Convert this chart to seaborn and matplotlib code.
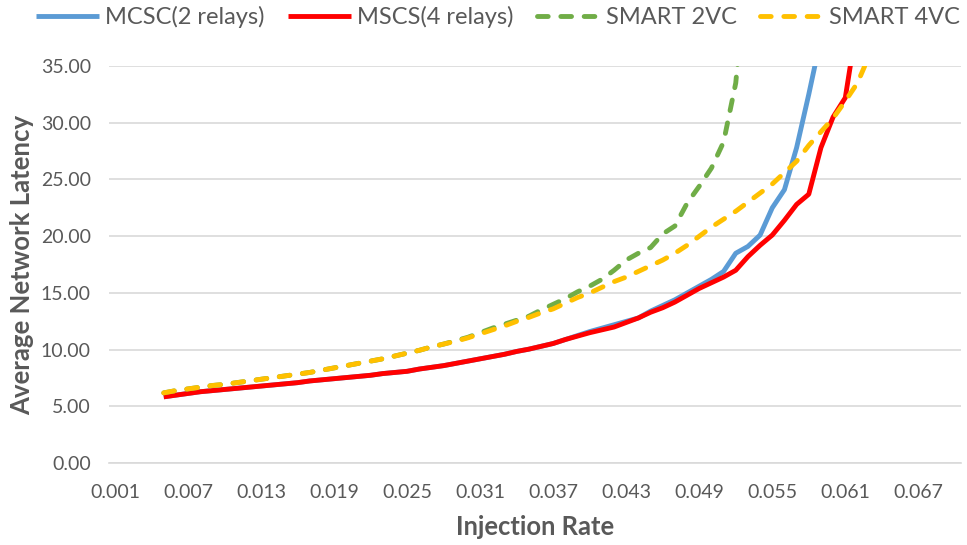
import numpy as np
import pandas as pd
import seaborn as sns
import matplotlib.pyplot as plt

# injection rates (Excel category axis 0.001 .. 0.070)
rates = [round(0.005 + 0.001 * i, 3) for i in range(59)]  # 0.005 .. 0.063

mcsc = [5.85, 6.0, 6.15, 6.3, 6.4, 6.5, 6.6, 6.7, 6.8, 6.9,
        7.0, 7.1, 7.25, 7.35, 7.45, 7.55, 7.65, 7.75, 7.9, 8.0,
        8.1, 8.3, 8.45, 8.6, 8.8, 9.0, 9.2, 9.4, 9.6, 9.85,
        10.05, 10.3, 10.55, 10.9, 11.25, 11.6, 11.9, 12.2, 12.5, 12.8,
        13.4, 13.9, 14.4, 15.0, 15.6, 16.2, 16.9, 18.5, 19.1, 20.1,
        22.5, 24.1, 27.8, 32.5, 37.5]
mscs = [5.85, 6.0, 6.15, 6.3, 6.4, 6.5, 6.6, 6.7, 6.8, 6.9,
        7.0, 7.1, 7.25, 7.35, 7.45, 7.55, 7.65, 7.75, 7.9, 8.0,
        8.1, 8.3, 8.45, 8.6, 8.8, 9.0, 9.2, 9.4, 9.6, 9.85,
        10.05, 10.3, 10.55, 10.9, 11.2, 11.5, 11.75, 12.0, 12.4, 12.8,
        13.3, 13.7, 14.2, 14.8, 15.4, 15.9, 16.4, 17.0, 18.2, 19.2,
        20.1, 21.4, 22.8, 23.7, 27.8, 30.5, 32.2, 39.0]
smart2 = [6.2, 6.4, 6.55, 6.7, 6.85, 6.95, 7.1, 7.25, 7.4, 7.55,
          7.7, 7.85, 8.0, 8.2, 8.4, 8.6, 8.8, 9.0, 9.2, 9.45,
          9.7, 9.95, 10.25, 10.5, 10.8, 11.1, 11.5, 11.9, 12.25, 12.6,
          12.95, 13.5, 14.0, 14.5, 15.1, 15.6, 16.2, 17.0, 17.9, 18.5,
          19.0, 20.2, 20.9, 22.9, 24.4, 26.0, 28.3, 33.5, 45.0]
smart4 = [6.2, 6.4, 6.55, 6.7, 6.85, 6.95, 7.1, 7.25, 7.4, 7.55,
          7.7, 7.85, 8.0, 8.2, 8.4, 8.6, 8.8, 9.0, 9.2, 9.45,
          9.7, 9.95, 10.25, 10.5, 10.75, 11.05, 11.4, 11.75, 12.1, 12.5,
          12.85, 13.25, 13.6, 14.1, 14.6, 15.0, 15.5, 16.0, 16.4, 16.9,
          17.4, 17.9, 18.5, 19.2, 20.0, 20.8, 21.5, 22.2, 23.0, 23.8,
          24.6, 25.6, 26.6, 28.0, 29.2, 30.4, 31.9, 33.5, 36.0]

series = [
    ("MCSC(2 relays)", mcsc, "#5B9BD5", None),
    ("MSCS(4 relays)", mscs, "#FF0000", None),
    ("SMART 2VC", smart2, "#70AD47", (2.2, 2.6)),
    ("SMART 4VC", smart4, "#FFC000", (2.2, 2.6)),
]

sns.set_style("white")
plt.rcParams['font.family'] = ['Lato', 'DejaVu Sans']

fig = plt.figure(figsize=(9.67, 5.45), dpi=100)
ax = fig.add_axes([0.1127, 0.150, 0.881, 0.729])

for name, vals, color, dash in series:
    df = pd.DataFrame({"rate": rates[:len(vals)], "lat": vals})
    sns.lineplot(data=df, x="rate", y="lat", ax=ax, color=color,
                 linewidth=3.5, label=name)
    ln = ax.get_lines()[-1]
    ln.set_solid_capstyle('butt')
    if dash:
        ln.set_dashes(dash)
        ln.set_dash_capstyle('round')

ax.set_xlim(0.0005, 0.0705)
ax.set_ylim(0, 35)
ax.set_xticks([0.001 + 0.006 * k for k in range(12)])
ax.set_xticklabels([f"{0.001 + 0.006 * k:.3f}" for k in range(12)])
ax.set_yticks(np.arange(0, 35.1, 5))
ax.set_yticklabels([f"{v:.2f}" for v in np.arange(0, 35.1, 5)])
ax.tick_params(axis='both', length=0, labelsize=14, colors='#595959')
ax.tick_params(axis='x', pad=15)
ax.tick_params(axis='y', pad=13)
ax.yaxis.grid(True, color='#D9D9D9', linewidth=1.2)
ax.xaxis.grid(False)
for s in ['top', 'right', 'left']:
    ax.spines[s].set_visible(False)
ax.spines['bottom'].set_color('#D9D9D9')
ax.spines['bottom'].set_linewidth(1.2)

ax.set_xlabel("Injection Rate", fontsize=18.4, fontweight='bold', color='#595959')
ax.set_ylabel("Average Network Latency", fontsize=18.5, fontweight='bold', color='#595959')
ax.xaxis.set_label_coords(0.5, -0.13)
ax.yaxis.set_label_coords(-0.088, 0.5)

handles, labels = ax.get_legend_handles_labels()
ax.get_legend().remove()
fig.legend(handles, labels, loc='center', bbox_to_anchor=(0.515, 0.969), ncol=4,
           frameon=False, fontsize=17, handlelength=2.67, columnspacing=1.0,
           labelcolor='#595959', handletextpad=0.25)

fig.savefig("out.png", dpi=100)
